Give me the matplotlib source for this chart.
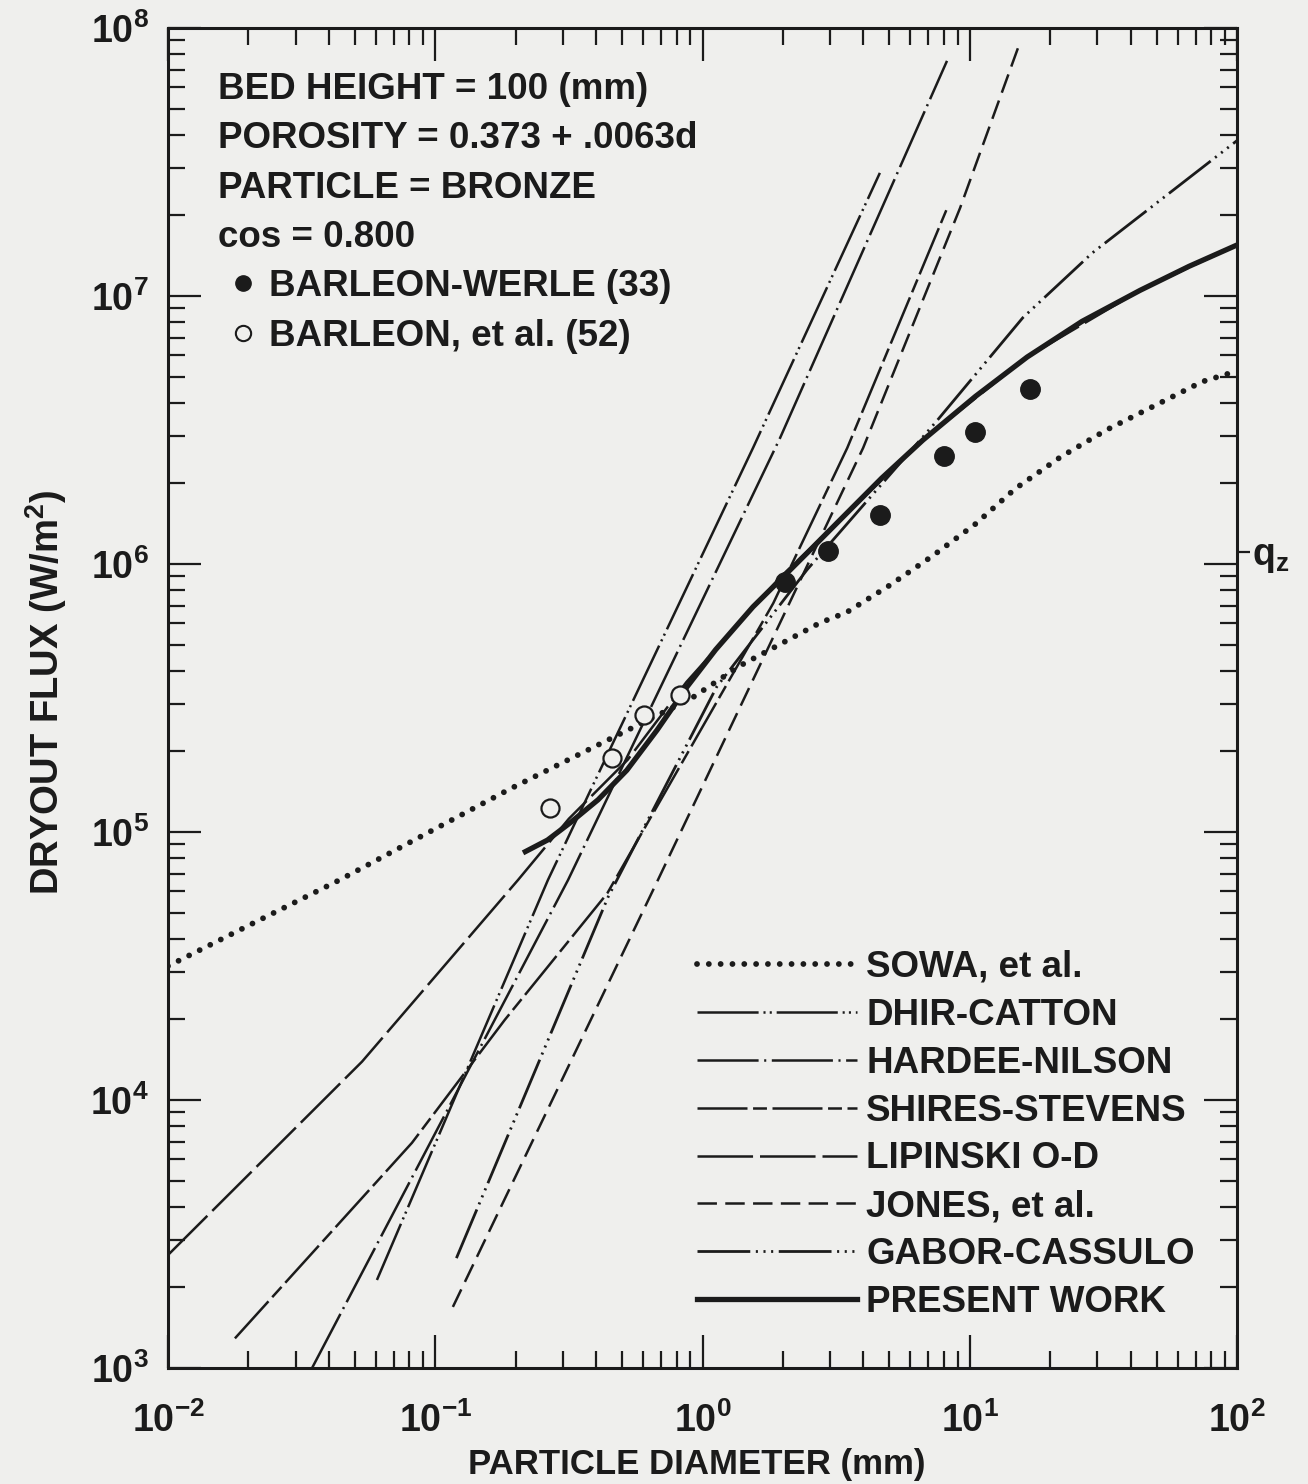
import math
import matplotlib
matplotlib.use("Agg")
import matplotlib.pyplot as plt
from matplotlib.lines import Line2D
from matplotlib.ticker import LogLocator, FuncFormatter, NullFormatter, NullLocator

plt.rcParams['font.family'] = ['Liberation Sans', 'DejaVu Sans']
plt.rcParams['font.weight'] = 'bold'
plt.rcParams['mathtext.fontset'] = 'custom'
plt.rcParams['mathtext.rm'] = 'Liberation Sans:bold'
plt.rcParams['mathtext.it'] = 'Liberation Sans:bold'
plt.rcParams['mathtext.bf'] = 'Liberation Sans:bold'
plt.rcParams['mathtext.default'] = 'rm'
plt.rcParams['lines.scale_dashes'] = False

INK = '#1b1b1b'
PAPER = '#efefed'

# particle diameter (mm) and dryout flux (W/m^2) along each correlation
sowa_d = [0.01, 0.0229, 0.0437, 0.0871, 0.191, 0.417, 0.912, 1.38, 2.75, 3.47,
          5.01, 7.24, 10.5, 14.8, 21.9, 32.4, 49.0, 74.1, 100]
sowa_q = [3.16e4, 4.79e4, 6.61e4, 9.55e4, 1.45e5, 2.14e5, 3.16e5, 4.17e5, 6.03e5, 6.61e5,
          8.32e5, 1.07e6, 1.41e6, 1.91e6, 2.51e6, 3.16e6, 3.89e6, 4.79e6, 5.25e6]

dhir_d = [0.0605, 0.264, 1.545, 4.61]
dhir_q = [2.13e3, 6.62e4, 2.71e6, 2.88e7]

hardee_d = [0.0346, 0.314, 1.95, 8.22]
hardee_q = [1.0e3, 6.62e4, 2.95e6, 7.54e7]

shires_d = [0.0178, 0.0818, 0.182, 0.440, 1.84, 3.48, 8.30]
shires_q = [1.29e3, 6.92e3, 1.99e4, 5.9e4, 7.14e5, 2.71e6, 2.17e7]

lipinski_d = [0.01, 0.0532, 0.204, 0.316, 0.525, 0.871, 1.95, 3.27, 6.68, 16.4, 43.4, 100]
lipinski_q = [2.64e3, 1.39e4, 6.62e4, 1.12e5, 1.86e5, 3.63e5, 8.91e5, 1.46e6, 2.90e6,
              5.92e6, 1.05e7, 1.55e7]

jones_d = [0.1164, 0.681, 3.99, 9.20, 15.3]
jones_q = [1.69e3, 6.62e4, 2.71e6, 2.13e7, 8.65e7]

gabor_d = [0.120, 0.443, 1.13, 2.46, 7.53, 15.8, 28.8, 100]
gabor_q = [2.57e3, 5.71e4, 3.48e5, 9.51e5, 3.42e6, 8.3e6, 1.45e7, 3.8e7]

present_d = [0.213, 0.263, 0.319, 0.407, 0.521, 0.676, 0.875, 1.12, 1.545, 1.95, 2.51,
             3.27, 4.68, 6.68, 10.5, 16.4, 26.3, 43.4, 66.1, 100]
present_q = [8.36e4, 9.33e4, 1.08e5, 1.32e5, 1.70e5, 2.40e5, 3.48e5, 4.79e5, 6.92e5, 8.71e5,
             1.12e6, 1.46e6, 2.09e6, 2.90e6, 4.22e6, 5.92e6, 8.04e6, 1.05e7, 1.29e7, 1.55e7]

# measured dryout fluxes
werle_d = [2.04, 2.95, 4.61, 8.01, 10.5, 16.8]
werle_q = [8.57e5, 1.12e6, 1.52e6, 2.53e6, 3.11e6, 4.5e6]
barleon_d = [0.268, 0.458, 0.604, 0.824]
barleon_q = [1.23e5, 1.89e5, 2.73e5, 3.25e5]

qz = 1.11e6

header = ['BED HEIGHT = 100 (mm)', 'POROSITY = 0.373 + .0063d',
          'PARTICLE = BRONZE', 'cos = 0.800']

curves = [
    ('SOWA, et al.', sowa_d, sowa_q, dict(lw=4.2, ls=(0, (0.01, 8.5)), dash_capstyle='round')),
    ('DHIR-CATTON', dhir_d, dhir_q, dict(lw=1.8, ls=(0, (44, 3.5, 1.5, 3, 1.5, 3.5)))),
    ('HARDEE-NILSON', hardee_d, hardee_q, dict(lw=1.8, ls=(0, (44, 4, 1.5, 4)))),
    ('SHIRES-STEVENS', shires_d, shires_q, dict(lw=1.8, ls=(0, (36, 4, 10, 4)))),
    ('LIPINSKI O-D', lipinski_d, lipinski_q, dict(lw=1.8, ls=(0, (40, 5)))),
    ('JONES, et al.', jones_d, jones_q, dict(lw=1.8, ls=(0, (14, 6)))),
    ('GABOR-CASSULO', gabor_d, gabor_q, dict(lw=2.0, ls=(0, (38, 4, 1.5, 4, 1.5, 4, 1.5, 4)))),
    ('PRESENT WORK', present_d, present_q, dict(lw=3.8, ls='-')),
]

fig = plt.figure(figsize=(13.08, 14.84), dpi=100, facecolor=PAPER)
ax = fig.add_axes([168 / 1308, 1 - 1368 / 1484, 1069 / 1308, 1340 / 1484])
ax.set_facecolor(PAPER)
ax.set_xscale('log')
ax.set_yscale('log')
ax.set_xlim(1e-2, 1e2)
ax.set_ylim(1e3, 1e8)

handles = []
for label, d, q, style in curves:
    ax.plot(d, q, color=INK, solid_capstyle='butt', solid_joinstyle='round', **style)
    handles.append(Line2D([], [], color=INK, **style))

ax.plot(werle_d, werle_q, ls='none', marker='o', ms=14, mfc=INK, mec=INK)
ax.plot(barleon_d, barleon_q, ls='none', marker='o', ms=13, mfc=PAPER, mec=INK, mew=1.6)


def decade(v, pos):
    return r'$10^{%d}$' % round(math.log10(v))


# axes, ticks
for sp in ax.spines.values():
    sp.set_linewidth(2.2)
    sp.set_color(INK)
for axis in (ax.xaxis, ax.yaxis):
    axis.set_major_locator(LogLocator(base=10, numticks=10))
    axis.set_minor_locator(LogLocator(base=10, subs=range(2, 10), numticks=10))
    axis.set_minor_formatter(NullFormatter())
    axis.set_major_formatter(FuncFormatter(decade))
ax.tick_params(which='both', direction='in', top=True, right=True, color=INK, width=1.6)
ax.tick_params(which='major', length=24, labelsize=27, labelcolor=INK)
ax.tick_params(which='minor', length=12)
ax.tick_params(axis='x', which='major', pad=25)
ax.tick_params(axis='y', which='major', pad=14)

ax.set_xlabel('PARTICLE DIAMETER (mm)', fontsize=25, fontweight='bold', color=INK)
ax.xaxis.set_label_coords(0.495, -0.060)
ax.set_ylabel('DRYOUT FLUX (W/m$^2$)', fontsize=27.5, fontweight='bold', color=INK)
ax.yaxis.set_label_coords(-0.093, 0.504)

# q_z marker on the right edge
sec = ax.secondary_yaxis('right')
sec.set_yticks([qz], labels=['$q_z$'])
sec.yaxis.set_minor_locator(NullLocator())
sec.tick_params(which='major', direction='out', length=9, width=1.6, color=INK,
                labelsize=27, pad=2, labelcolor=INK)
sec.spines['right'].set_visible(False)

# case description
for i, line in enumerate(header):
    ax.text(0.047, 0.954 - i * 0.0368, line, transform=ax.transAxes, fontsize=26.5,
            fontweight='bold', color=INK, va='center', ha='left')

marks = [Line2D([], [], ls='none', marker='o', ms=11, mfc=INK, mec=INK),
         Line2D([], [], ls='none', marker='o', ms=11, mfc=PAPER, mec=INK, mew=1.5)]
leg2 = ax.legend(marks, ['BARLEON-WERLE (33)', 'BARLEON, et al. (52)'], loc='upper left',
                 bbox_to_anchor=(0.058, 0.82), frameon=False, prop=dict(size=26.5, weight='bold'),
                 handlelength=0.7, handletextpad=0.35, labelspacing=0.4, borderpad=0,
                 borderaxespad=0)
for t in leg2.get_texts():
    t.set_color(INK)
ax.add_artist(leg2)

leg = ax.legend(handles, [c[0] for c in curves], loc='upper left', bbox_to_anchor=(0.495, 0.312),
                frameon=False, prop=dict(size=26.5, weight='bold'), handlelength=4.35,
                handletextpad=0.24, labelspacing=0.35, borderpad=0, borderaxespad=0)
for t in leg.get_texts():
    t.set_color(INK)

fig.savefig('out.png', dpi=100, facecolor=PAPER)
